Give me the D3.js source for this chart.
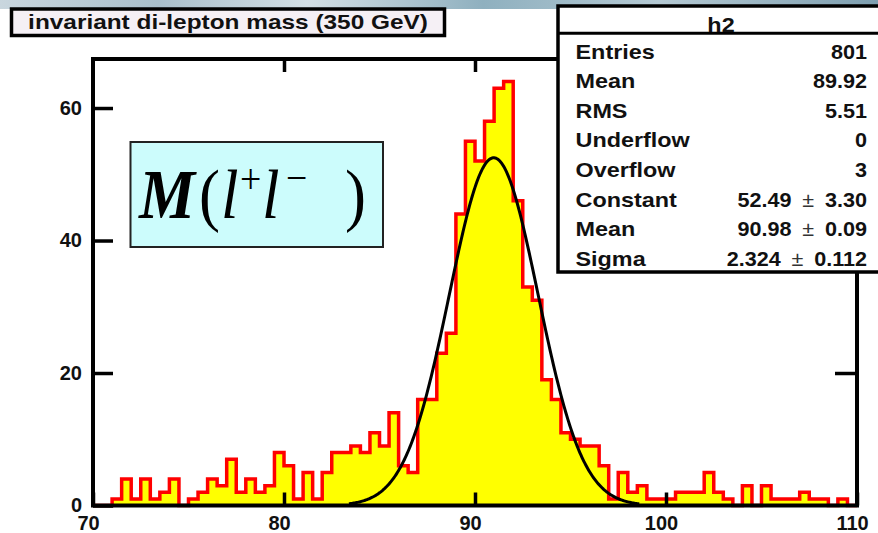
<!DOCTYPE html>
<html>
<head>
<meta charset="utf-8">
<script src="https://cdn.jsdelivr.net/npm/d3@7"></script>
<style>
  html, body { margin: 0; padding: 0; background: #ffffff; }
  svg { display: block; }
</style>
</head>
<body>
<svg id="chart" width="878" height="533"></svg>
<script>
// ---- h2: invariant di-lepton mass, 80 bins of 0.5 GeV over 70..110 GeV ----
const massRange = [70, 110];
const binWidth = 0.5;
const counts70to80  = [0, 0, 1, 4, 1, 4, 1, 2, 4, 0, 1, 2, 4, 3, 7, 2, 4, 2, 3, 8];
const counts80to90  = [6, 1, 5, 1, 5, 8, 8, 9, 8, 11, 9, 14, 6, 5, 16, 16, 23, 26, 44, 55];
const counts90to100 = [52, 58, 63, 64, 46, 33, 31, 19, 16, 11, 10, 9, 9, 6, 1, 5, 2, 3, 1, 1];
const counts100to110 = [1, 2, 2, 2, 5, 2, 1, 0, 3, 0, 3, 1, 1, 1, 2, 1, 1, 0, 1, 0];
const binCounts = [].concat(counts70to80, counts80to90, counts90to100, counts100to110);

const xTickValues = [70, 80, 90, 100, 110];
const yTickValues = [0, 20, 40, 60];
const yMax = 67.4;

// Gaussian fit parameters and the range it was fitted on
const fitConstant = 52.49;
const fitMean = 90.98;
const fitSigma = 2.324;
const fitRange = [83.4, 98.6];

// Statistics box
const statsTitle = "h2";
const statLabels = ["Entries", "Mean", "RMS", "Underflow", "Overflow", "Constant", "Mean", "Sigma"];
const statValues = [["801"], ["89.92"], ["5.51"], ["0"], ["3"],
                    ["52.49", "3.30"], ["90.98", "0.09"], ["2.324", "0.112"]];

const titleText = "invariant di-lepton mass (350 GeV)";

// ---- layout ----
const frame = { left: 93, right: 857, top: 59, bottom: 505.5 };
const svg = d3.select("#chart");
const sans = "'Liberation Sans', Arial, Helvetica, sans-serif";
const serif = "'Liberation Serif', 'Times New Roman', Times, serif";

const x = d3.scaleLinear().domain(massRange).range([frame.left, frame.right]);
const y = d3.scaleLinear().domain([0, yMax]).range([frame.bottom, frame.top]);

// slide-style strip along the very top
const defs = svg.append("defs");
const strip = defs.append("linearGradient").attr("id", "strip").attr("x1", 0).attr("x2", 1).attr("y1", 0).attr("y2", 0);
[["0%", "#c9d6de"], ["18%", "#a9bfcb"], ["35%", "#d3dfe5"], ["55%", "#8fb0bf"], ["75%", "#b4c9d3"], ["100%", "#7e9fb0"]]
  .forEach(([o, c]) => strip.append("stop").attr("offset", o).attr("stop-color", c));
svg.append("rect").attr("x", 0).attr("y", 0).attr("width", 878).attr("height", 9).attr("fill", "url(#strip)");

// ---- histogram ----
const bins = binCounts.map((c, i) => ({ lo: massRange[0] + i * binWidth, c }));
const stepPts = bins.map(b => [b.lo, b.c]).concat([[massRange[1], binCounts[binCounts.length - 1]]]);

svg.append("path")
  .attr("d", d3.area().curve(d3.curveStepAfter)
    .x(d => x(d[0])).y0(y(0)).y1(d => y(d[1]))(stepPts))
  .attr("fill", "#ffff00");

const outlinePts = [[massRange[0], 0]].concat(stepPts, [[massRange[1], 0]]);
svg.append("path")
  .attr("d", d3.line().curve(d3.curveStepAfter).x(d => x(d[0])).y(d => y(d[1]))(outlinePts))
  .attr("fill", "none")
  .attr("stroke", "#ff0000")
  .attr("stroke-width", 3.5)
  .attr("stroke-linejoin", "miter");

// ---- Gaussian fit ----
const gauss = m => fitConstant * Math.exp(-0.5 * Math.pow((m - fitMean) / fitSigma, 2));
const fitPts = d3.range(fitRange[0], fitRange[1] + 1e-9, 0.05).map(m => [m, gauss(m)]);
svg.append("path")
  .attr("d", d3.line().x(d => x(d[0])).y(d => y(d[1]))(fitPts))
  .attr("fill", "none")
  .attr("stroke", "#000")
  .attr("stroke-width", 3);

// ---- axes ----
function styleAxis(g) {
  g.select(".domain").remove();
  g.selectAll(".tick line").attr("stroke", "#000").attr("stroke-width", 3.5);
  g.selectAll(".tick text")
    .attr("fill", "#111")
    .attr("font-family", sans)
    .attr("font-weight", "bold")
    .attr("font-size", 20);
}

svg.append("g").attr("transform", `translate(${frame.left},0)`)
  .call(d3.axisLeft(y).tickValues(yTickValues).tickSizeInner(-20).tickSizeOuter(0).tickPadding(11).tickFormat(d3.format("d")))
  .call(styleAxis);

svg.append("g").attr("transform", `translate(${frame.right},0)`)
  .call(d3.axisRight(y).tickValues(yTickValues.slice(1)).tickSizeInner(-22).tickSizeOuter(0).tickFormat(""))
  .call(styleAxis);

svg.append("g").attr("transform", `translate(0,${frame.bottom})`)
  .call(d3.axisBottom(x).tickValues(xTickValues).tickSizeInner(-13).tickSizeOuter(0).tickPadding(10).tickFormat(d3.format("d")))
  .call(styleAxis)
  .call(g => g.selectAll(".tick text").attr("dx", -5));

svg.append("g").attr("transform", `translate(0,${frame.top})`)
  .call(d3.axisTop(x).tickValues(xTickValues.slice(1, 4)).tickSizeInner(-13).tickSizeOuter(0).tickFormat(""))
  .call(styleAxis);

// frame
svg.append("rect")
  .attr("x", frame.left).attr("y", frame.top)
  .attr("width", frame.right - frame.left).attr("height", frame.bottom - frame.top)
  .attr("fill", "none").attr("stroke", "#000").attr("stroke-width", 4);

// ---- M(l+l-) label ----
svg.append("rect")
  .attr("x", 130.5).attr("y", 142).attr("width", 252.5).attr("height", 105)
  .attr("fill", "#ccfcfc").attr("stroke", "#222").attr("stroke-width", 2);

const latex = [
  { t: "M",      x: 139, y: 218, size: 70, style: "italic", weight: "bold" },
  { t: "(",      x: 199, y: 218, size: 70, style: "normal", weight: "normal" },
  { t: "l",      x: 221, y: 218, size: 70, style: "italic", weight: "normal" },
  { t: "+",      x: 240, y: 193, size: 42, style: "normal", weight: "normal" },
  { t: "l",      x: 262, y: 218, size: 70, style: "italic", weight: "normal" },
  { t: "\u2212", x: 286, y: 192, size: 42, style: "normal", weight: "normal" },
  { t: ")",      x: 345, y: 218, size: 70, style: "normal", weight: "normal" }
];
svg.append("g").selectAll("text").data(latex).join("text")
  .attr("transform", d => `translate(${d.x},${d.y}) scale(0.9,1)`)
  .attr("font-family", serif)
  .attr("font-style", d => d.style)
  .attr("font-weight", d => d.weight)
  .attr("font-size", d => d.size)
  .attr("fill", "#000")
  .text(d => d.t);

// ---- title box ----
svg.append("rect")
  .attr("x", 11.5).attr("y", 9).attr("width", 433).attr("height", 26.5)
  .attr("fill", "#f5f0f5").attr("stroke", "#000").attr("stroke-width", 3.5);
svg.append("text")
  .attr("transform", "translate(228,29) scale(1.22,1)")
  .attr("text-anchor", "middle")
  .attr("font-family", sans).attr("font-weight", "bold").attr("font-size", 20)
  .attr("fill", "#111")
  .text(titleText);

// ---- statistics box ----
const stats = svg.append("g");
stats.append("rect")
  .attr("x", 558).attr("y", 6).attr("width", 340).attr("height", 266)
  .attr("fill", "#fff").attr("stroke", "#000").attr("stroke-width", 3.5);
stats.append("line")
  .attr("x1", 558).attr("x2", 878).attr("y1", 33.3).attr("y2", 33.3)
  .attr("stroke", "#000").attr("stroke-width", 3);
stats.append("text")
  .attr("transform", "translate(721,31.5) scale(1.17,1)")
  .attr("text-anchor", "middle")
  .attr("font-family", sans).attr("font-weight", "bold").attr("font-size", 20)
  .attr("fill", "#111")
  .text(statsTitle);

const rowY = i => 58.5 + i * 29.6;
stats.selectAll("text.lab").data(statLabels).join("text")
  .attr("class", "lab")
  .attr("transform", (d, i) => `translate(575.5,${rowY(i)}) scale(1.17,1)`)
  .attr("font-family", sans).attr("font-weight", "bold").attr("font-size", 20)
  .attr("fill", "#111")
  .text(d => d);

const vals = stats.selectAll("text.val").data(statValues).join("text")
  .attr("class", "val")
  .attr("transform", (d, i) => `translate(867,${rowY(i)}) scale(1.08,1)`)
  .attr("text-anchor", "end")
  .attr("font-family", sans).attr("font-weight", "bold").attr("font-size", 20)
  .attr("fill", "#111");
vals.each(function (d) {
  const t = d3.select(this);
  t.append("tspan").text(d[0]);
  if (d.length > 1) {
    t.append("tspan").attr("font-weight", "normal").attr("fill", "#333").text("\u2002\u00b1\u2002");
    t.append("tspan").text(d[1]);
  }
});
</script>
</body>
</html>
